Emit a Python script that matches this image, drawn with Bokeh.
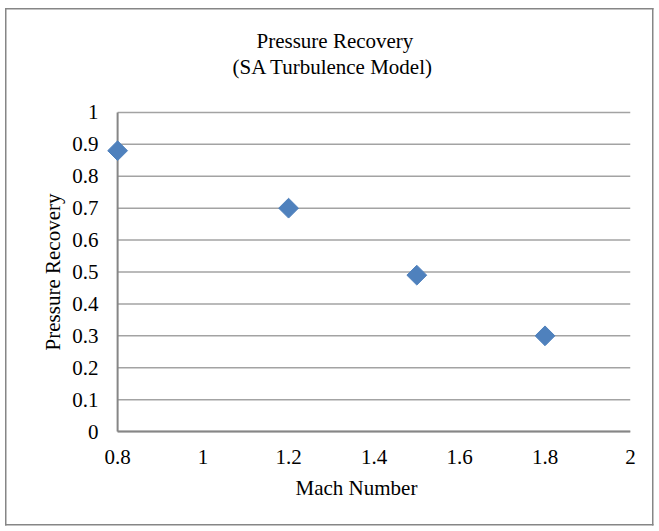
import numpy as np
from bokeh.plotting import figure
from bokeh.models import Range1d, FixedTicker, Title, CustomJSTickFormatter, LinearAxis
from bokeh.embed import file_html
from bokeh.resources import INLINE

# ---- data ----
mach = [0.8, 1.2, 1.5, 1.8]
recovery = [0.88, 0.70, 0.49, 0.30]
x_ticks = [0.8, 1.0, 1.2, 1.4, 1.6, 1.8, 2.0]
y_ticks = [0.0, 0.1, 0.2, 0.3, 0.4, 0.5, 0.6, 0.7, 0.8, 0.9, 1.0]
title_lines = ["Pressure Recovery", "(SA Turbulence Model)"]
x_title = "Mach Number"
y_title = "Pressure Recovery"

FONT = "Liberation Serif"
FS = "21px"
GRID = "#A3A3A3"
AXIS = "#868686"
BLUE = "#4F81BD"

p = figure(width=659, height=531,
           x_range=Range1d(0.774, 2.0), y_range=Range1d(-0.006, 1.006),
           output_backend="svg", toolbar_location=None,
           min_border_left=106, min_border_right=29,
           min_border_top=110, min_border_bottom=98)
p.title.visible = False
p.outline_line_color = None
p.background_fill_color = None
p.border_fill_color = None
p.xgrid.visible = False
p.ygrid.visible = False

# chart-area border drawn as page background behind the transparent canvas
g = f"linear-gradient({AXIS},{AXIS})"
p.styles = {
    "background-color": "white",
    "background-image": ", ".join([g] * 4),
    "background-repeat": "no-repeat",
    "background-position": "5px 8px, 652px 8px, 5px 8px, 5px 524px",
    "background-size": "1.5px 517.5px, 1.5px 517.5px, 648.5px 1.5px, 648.5px 1.5px",
}

fmt = CustomJSTickFormatter(code="return String(Math.round(tick*10)/10);")

for ax, ticks in ((p.xaxis[0], x_ticks), (p.yaxis[0], y_ticks)):
    ax.ticker = FixedTicker(ticks=ticks)
    ax.formatter = fmt
    ax.axis_line_color = None
    ax.major_tick_line_color = None
    ax.minor_tick_line_color = None
    ax.major_tick_out = 0
    ax.major_tick_in = 0
    ax.minor_tick_out = 0
    ax.major_label_text_font = FONT
    ax.major_label_text_font_size = FS
    ax.major_label_text_color = "black"
    ax.axis_label_text_font = FONT
    ax.axis_label_text_font_size = FS
    ax.axis_label_text_font_style = "normal"
    ax.axis_label_text_color = "black"

p.yaxis.major_label_standoff = 8
p.yaxis.axis_label = y_title
p.yaxis.axis_label_standoff = 4
p.xaxis.major_label_standoff = 16

# horizontal gridlines spanning the x extent
p.segment(x0=x_ticks[0], x1=x_ticks[-1], y0=y_ticks, y1=y_ticks,
          line_color=GRID, line_width=1.5)
# axis lines
p.segment(x0=[x_ticks[0]], x1=[x_ticks[-1]], y0=[y_ticks[0]], y1=[y_ticks[0]],
          line_color=AXIS, line_width=2)
p.segment(x0=[x_ticks[0]], x1=[x_ticks[0]], y0=[y_ticks[0]], y1=[y_ticks[-1]],
          line_color=AXIS, line_width=2)

p.scatter(mach, recovery, marker="square", size=14, angle=np.pi / 4,
          fill_color=BLUE, line_color=BLUE)

def mk_title(text, offset, standoff):
    return Title(text=text, align="left", offset=offset, standoff=standoff,
                 text_font=FONT, text_font_size=FS, text_font_style="normal",
                 text_color="black")

# invisible spacer between the frame and the two-line chart title
spacer = LinearAxis(ticker=FixedTicker(ticks=[x_ticks[1]]),
                    formatter=CustomJSTickFormatter(code="return '';"),
                    major_label_text_font_size="0px", major_label_standoff=0,
                    major_tick_out=32, major_tick_in=0, minor_tick_out=0,
                    axis_line_color=None, major_tick_line_color=None,
                    minor_tick_line_color=None)
p.add_layout(spacer, "above")
p.add_layout(mk_title(title_lines[1], 126, 0), "above")
p.add_layout(mk_title(title_lines[0], 150, 0), "above")
p.add_layout(mk_title(x_title, 189, 14), "below")

open("out.html", "w").write(file_html(p, INLINE))
